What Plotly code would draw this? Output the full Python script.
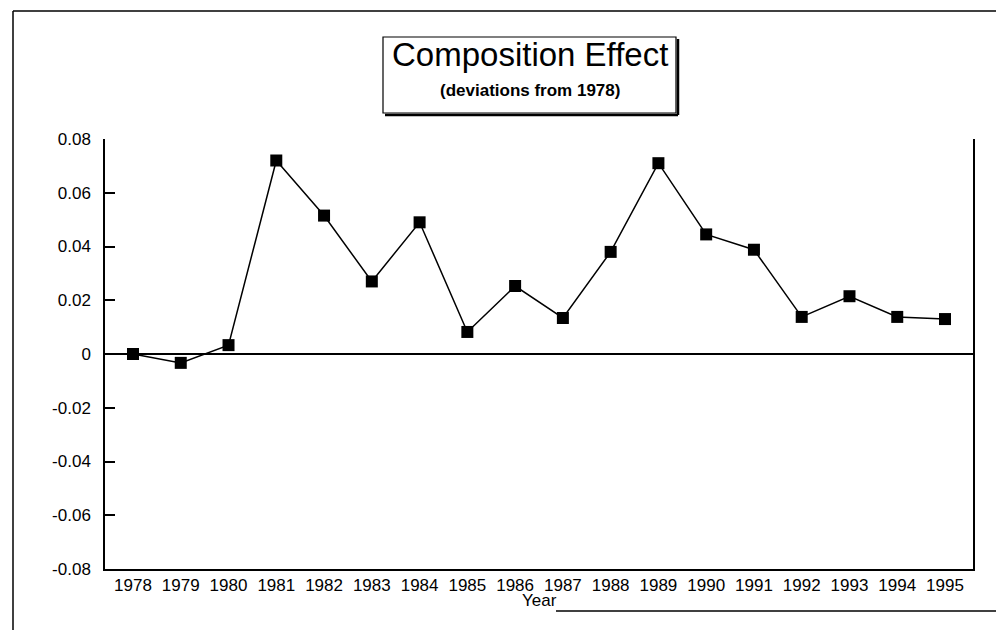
import plotly.graph_objects as go

years = [str(y) for y in range(1978, 1996)]
effect = [0.0, -0.0033, 0.0033, 0.072, 0.0515, 0.027, 0.049, 0.0082, 0.0253,
          0.0134, 0.038, 0.071, 0.0445, 0.0388, 0.0138, 0.0215, 0.0138, 0.013]
ytick_vals = [-0.08, -0.06, -0.04, -0.02, 0, 0.02, 0.04, 0.06, 0.08]
ytick_text = ["-0.08", "-0.06", "-0.04", "-0.02", "0", "0.02", "0.04", "0.06", "0.08"]

FONT = "Liberation Sans, Arial, sans-serif"
W, H = 1004, 630
L, R, T, B = 97, 965, 131, 561  # plot area in pixels


def px(x):
    return (x - L) / (R - L)


def py(y):
    return (B - y) / (B - T)


fig = go.Figure()
fig.add_trace(go.Scatter(
    x=years, y=effect, mode="lines+markers",
    line=dict(color="black", width=1.5),
    marker=dict(symbol="square", size=12, color="black"),
    showlegend=False,
))

shapes = []
# outer frame
for x0, y0, x1, y1 in [(5, 3, 1002, 3), (5, 3, 5, 630), (1002, 3, 1002, 603), (548, 603, 1002, 603)]:
    shapes.append(dict(type="line", xref="paper", yref="paper",
                       x0=px(x0), y0=py(y0), x1=px(x1), y1=py(y1),
                       line=dict(color="black", width=1.5)))
# title box
BX0, BX1, BY0, BY1 = 375, 668, 29, 105
shapes.append(dict(type="rect", xref="paper", yref="paper",
                   x0=px(BX0), y0=py(BY0), x1=px(BX1), y1=py(BY1),
                   line=dict(color="black", width=1.2), fillcolor="white"))
# shadow lines
shapes.append(dict(type="line", xref="paper", yref="paper",
                   x0=px(BX1 + 2), y0=py(BY0 + 2), x1=px(BX1 + 2), y1=py(BY1 + 2),
                   line=dict(color="black", width=2.5)))
shapes.append(dict(type="line", xref="paper", yref="paper",
                   x0=px(BX0 + 2), y0=py(BY1 + 2), x1=px(BX1 + 2), y1=py(BY1 + 2),
                   line=dict(color="black", width=2.5)))

CX = (BX0 + BX1) / 2
annotations = [
    dict(text="Composition Effect", xref="paper", yref="paper",
         x=px(CX), y=py(46), showarrow=False, xanchor="center", yanchor="middle",
         font=dict(family=FONT, size=33, color="black")),
    dict(text="<b>(deviations from 1978)</b>", xref="paper", yref="paper",
         x=px(CX), y=py(83), showarrow=False, xanchor="center", yanchor="middle",
         font=dict(family=FONT, size=17, color="black")),
    dict(text="Year", xref="paper", yref="paper",
         x=px((L + R) / 2), y=py(592), showarrow=False, xanchor="center", yanchor="middle",
         font=dict(family=FONT, size=17, color="black")),
]

fig.update_layout(
    width=W, height=H,
    margin=dict(l=L, r=W - R, t=T, b=H - B, pad=0),
    paper_bgcolor="white", plot_bgcolor="white",
    font=dict(family=FONT, size=17, color="black"),
    shapes=shapes, annotations=annotations,
    xaxis=dict(
        type="category", categoryorder="array", categoryarray=years,
        range=[-0.586, 17.586],
        showline=True, linecolor="black", linewidth=1.5, mirror=False,
        showgrid=False, ticks="", zeroline=False,
        tickfont=dict(family=FONT, size=17, color="black"),
    ),
    yaxis=dict(
        range=[-0.08, 0.08], tickvals=ytick_vals, ticktext=ytick_text,
        showline=True, linecolor="black", linewidth=1.5, mirror=True,
        showgrid=False, ticks="inside", ticklen=10, tickcolor="black", tickwidth=1.5,
        zeroline=True, zerolinecolor="black", zerolinewidth=1.5,
        tickfont=dict(family=FONT, size=17, color="black"),
        ticklabelstandoff=9,
    ),
)

fig.write_html("out.html")
